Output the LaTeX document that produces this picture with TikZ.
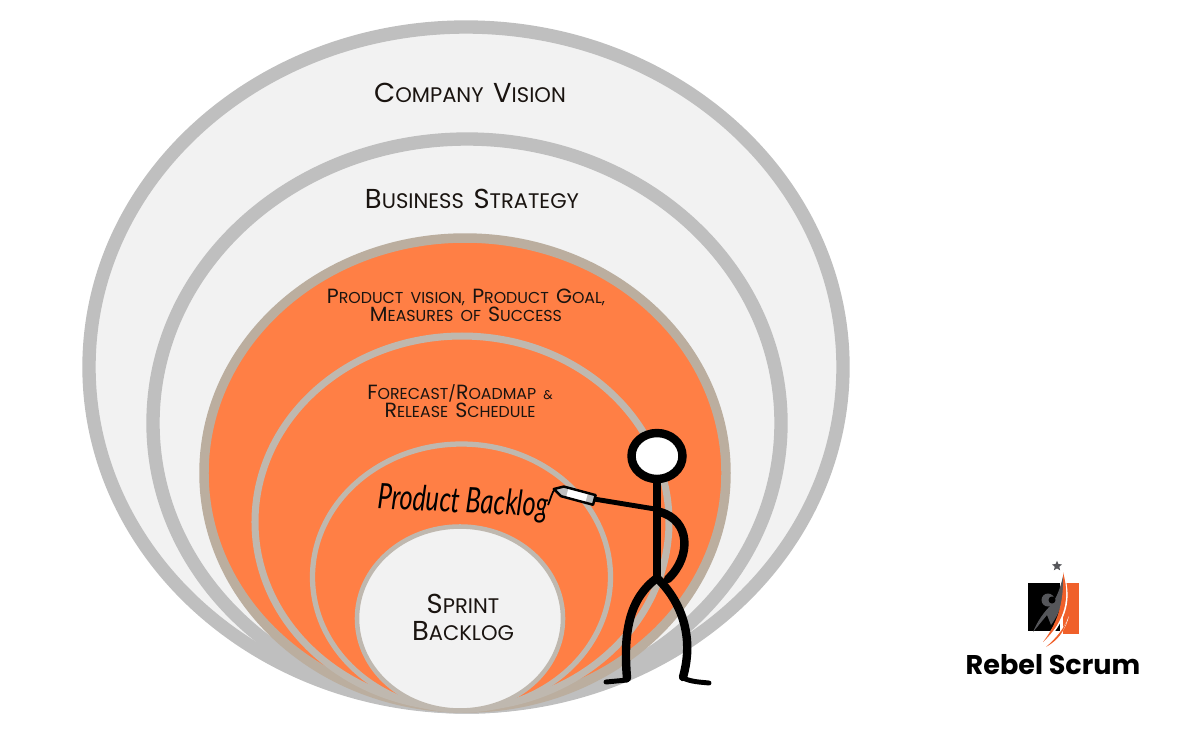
\documentclass[tikz,border=0pt]{standalone}
\usepackage{graphicx}
\usepackage{fontspec}
\usepackage{xcolor}
\usetikzlibrary{shapes.geometric}
\setmainfont{Poppins}
\newfontfamily\labelfont[WordSpace=1.7]{Poppins}
\newfontfamily\logofont{Poppins Bold}
\newfontfamily\handfont{Lato Italic}
\definecolor{ringgray}{HTML}{BFBFBF}
\definecolor{ringtan}{HTML}{BBAE9F}
\definecolor{ringpale}{HTML}{BFB8AF}
\definecolor{discgray}{HTML}{F2F2F2}
\definecolor{discorange}{HTML}{FF7F45}
\definecolor{logoorange}{HTML}{F0602A}
\definecolor{logogray}{HTML}{55565A}
\definecolor{labelink}{HTML}{1A1410}
\newcommand{\capi}[1]{\scalebox{1.3}{#1}}
\begin{document}
\begin{tikzpicture}[x=0.02cm,y=0.02cm]
\tikzset{
  outerring/.style={draw=ringgray,fill=discgray,line width=7.6pt},
  orangering/.style={draw=ringtan,fill=discorange,line width=5.4pt},
  forecastring/.style={draw=ringpale,fill=discorange,line width=4pt},
  backlogring/.style={draw=ringpale,fill=discorange,line width=3pt},
  sprintring/.style={draw=ringpale,fill=discgray,line width=2.6pt},
  biglabel/.style={font=\labelfont\fontsize{12}{15}\selectfont,text=labelink,align=center,inner sep=0pt},
  midlabel/.style={font=\labelfont\fontsize{9}{10.4}\selectfont,text=labelink,align=center,inner sep=0pt},
  sprintlabel/.style={font=\labelfont\fontsize{12}{15.4}\selectfont,text=labelink,align=center,inner sep=0pt},
  limb/.style={draw=black,line width=4.8pt,line cap=round,line join=round},
  thinlimb/.style={draw=black,line width=2.8pt,line cap=round}
}
\useasboundingbox (0,0) rectangle (1200,-752);
% rings
\draw [outerring] (466,-367) ellipse (377 and 340);
\draw [outerring] (467,-423) ellipse (314 and 284);
\draw [orangering] (465,-473) ellipse (261 and 235);
\draw [forecastring] (462,-522) ellipse (207 and 186);
\draw [backlogring] (461.5,-577) ellipse (149 and 133);
\draw [sprintring] (460,-618.5) ellipse (103 and 92);
% labels
\node [biglabel] (companyvision) at (470,-93) {\capi{C}OMPANY \capi{V}ISION};
\node [biglabel] (businessstrategy) at (472,-199) {\capi{B}USINESS \capi{S}TRATEGY};
\node [midlabel] (productvision) at (466,-305) {\capi{P}RODUCT VISION, \capi{P}RODUCT \capi{G}OAL,\\\capi{M}EASURES OF \capi{S}UCCESS};
\node [midlabel] (forecast) at (460,-401) {\capi{F}ORECAST/\capi{R}OADMAP \scalebox{0.8}{\&}\\\capi{R}ELEASE \capi{S}CHEDULE};
\node [sprintlabel] (sprintbacklog) at (463,-617) {\capi{S}PRINT\\\capi{B}ACKLOG};
\node [font=\handfont\fontsize{20}{22}\selectfont,text=black,rotate=-3,xscale=0.72,inner sep=0pt] (productbacklog) at (463,-503) {Product Backlog};
% stick figure
\draw [limb] (657,-482) -- (657,-578);
\draw [limb] (660,-512) .. controls (690,-520) and (692,-556) .. (668,-579);
\draw [limb] (657,-578) .. controls (630,-598) and (623,-630) .. (627,-678);
\draw [limb] (657,-578) .. controls (680,-600) and (695,-635) .. (683,-677);
\draw [thinlimb] (627,-680) -- (606,-682);
\draw [thinlimb] (683,-678) .. controls (692,-682) and (700,-682) .. (709,-683);
\draw [thinlimb] (655,-509) -- (594,-499);
\draw [draw=black,fill=white,line width=4.8pt] (657,-456) ellipse (25.5 and 23);
% pen
\draw [draw=black,line width=1pt] (548,-505) .. controls (551,-498) and (552,-492) .. (555,-489);
\draw [draw=black,fill=ringgray,line width=1.4pt,line join=round,rotate around={-15:(576,-495)}] (553,-495) -- (562,-490) -- (595,-490) -- (595,-500) -- (562,-500) -- cycle;
\draw [draw=none,fill=white,rotate around={-15:(576,-495)}] (567,-491.5) rectangle (587,-498.5);
% logo
\fill [black] (1028,-583) rectangle (1060,-631);
\fill [logoorange] (1063,-583) rectangle (1079,-634);
\fill [logogray] (1063,-576) .. controls (1065,-595) and (1062,-610) .. (1051,-625) -- (1047,-615) -- (1033,-632) .. controls (1038,-620) and (1044,-612) .. (1052,-604) .. controls (1056,-598) and (1060,-590) .. (1063,-576) -- cycle;
\fill [logogray] (1048,-600) circle (6.5);
\fill [black] (1052,-600) circle (3.5);
\fill [white] (1065,-576) .. controls (1071,-600) and (1067,-618) .. (1048,-640) -- (1044,-640) .. controls (1060,-620) and (1067,-600) .. (1065,-576) -- cycle;
\fill [logoorange] (1063,-572) .. controls (1070,-598) and (1066,-620) .. (1043,-642) .. controls (1060,-620) and (1064,-598) .. (1063,-572) -- cycle;
\fill [white] (1069,-616) .. controls (1064,-628) and (1056,-638) .. (1048,-645) -- (1052,-645) .. controls (1060,-636) and (1066,-628) .. (1069,-616) -- cycle;
\fill [logoorange] (1067,-620) .. controls (1063,-630) and (1056,-638) .. (1046,-647) .. controls (1058,-640) and (1064,-632) .. (1067,-620) -- cycle;
\node [star,star points=5,star point ratio=2.2,fill=logogray,inner sep=0pt,minimum size=6pt] (logostar) at (1057,-566) {};
\node [font=\logofont\fontsize{15.4}{17}\selectfont,text=black,inner sep=0pt] (rebelscrum) at (1053,-665) {Rebel Scrum};
\end{tikzpicture}
\end{document}
